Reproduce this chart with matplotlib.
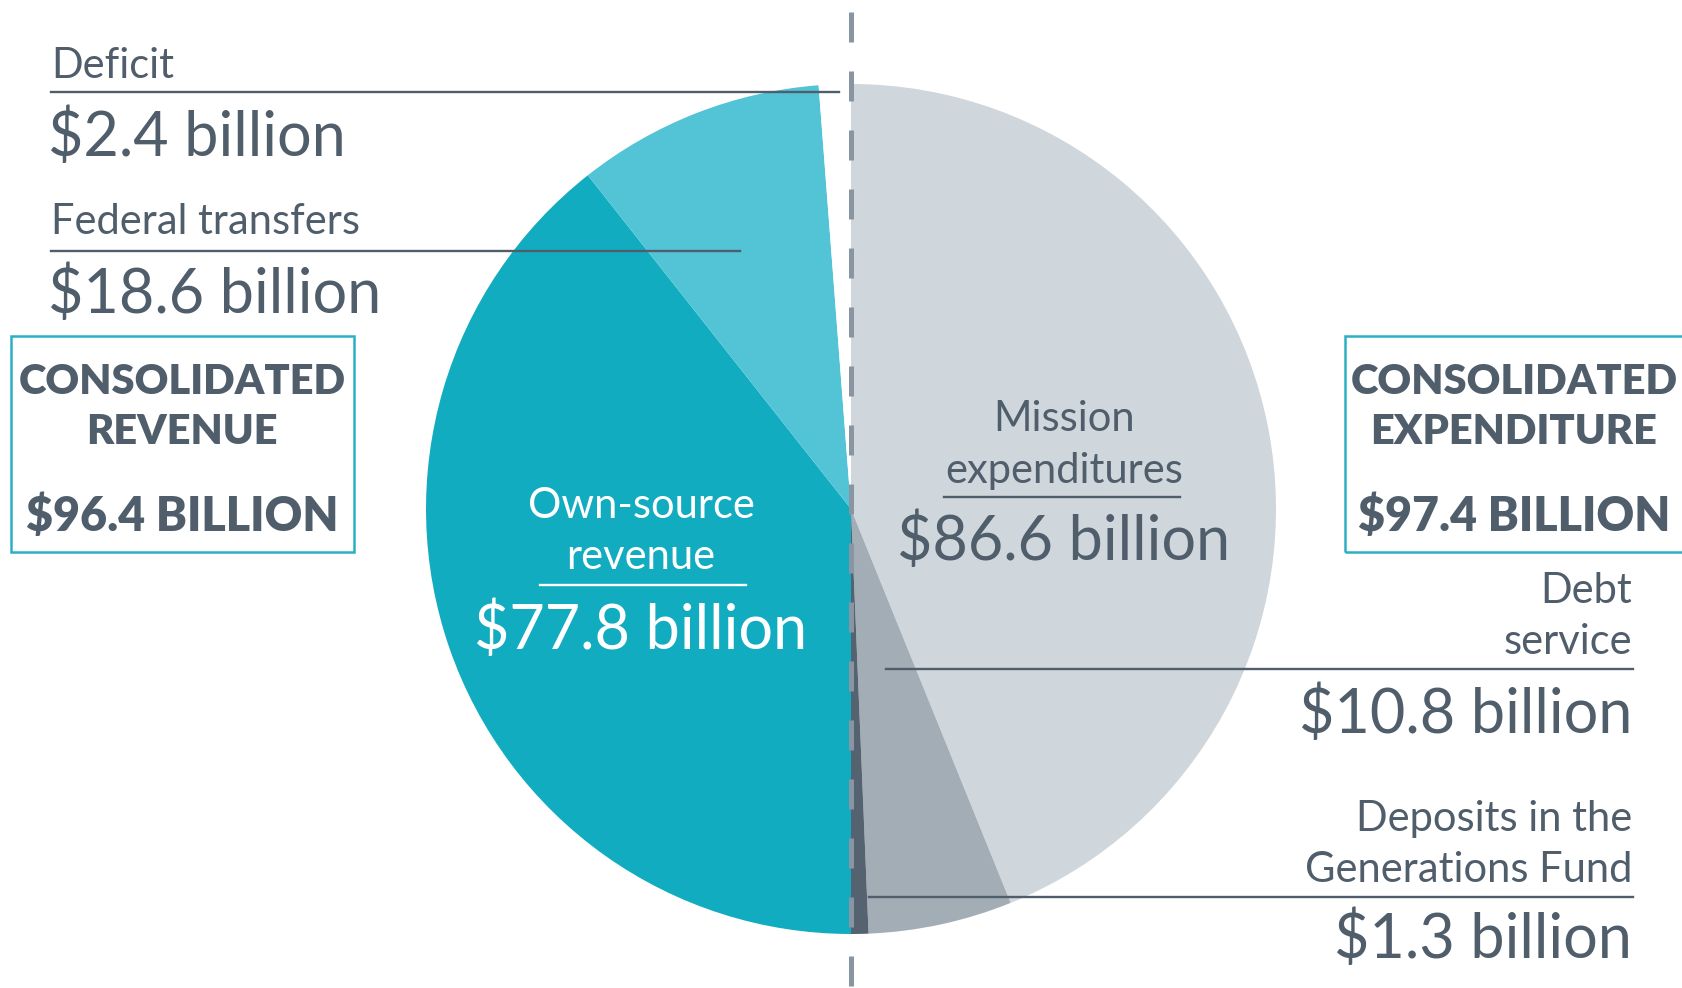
import matplotlib
matplotlib.use("Agg")
import matplotlib.pyplot as plt
from matplotlib.patches import Rectangle

# revenue side (left half), billions
revenue_labels = ["Own-source revenue", "Federal transfers", "Deficit"]
revenue_values = [77.8, 18.6, 2.4]
revenue_colors = ["#12acc0", "#52c4d6", "#ffffff"]

# expenditure side (right half), billions
expense_labels = ["Mission expenditures", "Debt service", "Deposits in the Generations Fund"]
expense_values = [86.6, 10.8, 1.3]
expense_colors = ["#cfd6dc", "#a3adb6", "#55626f"]

total_revenue = 96.4
total_expense = 97.4

TEXT = "#505e6c"
TEAL = "#2ab0c2"
W, H = 1682, 988
CX, CY, R = 851, H - 509, 425
SMALL, BIG = 30, 44

plt.rcParams["font.family"] = ["Lato", "DejaVu Sans"]

fig = plt.figure(figsize=(W / 100, H / 100), dpi=100)
ax = fig.add_axes([0, 0, 1, 1])

# each half of the pie: real slices plus an invisible filler equal to their sum
left_vals = revenue_values + [sum(revenue_values)]
ax.pie(left_vals, colors=revenue_colors + ["none"], startangle=270,
       counterclock=False, center=(CX, CY), radius=R,
       wedgeprops=dict(linewidth=0))
right_vals = expense_values + [sum(expense_values)]
ax.pie(right_vals, colors=expense_colors + ["none"], startangle=90,
       counterclock=False, center=(CX, CY), radius=R,
       wedgeprops=dict(linewidth=0))

ax.set_xlim(0, W)
ax.set_ylim(0, H)
ax.set_aspect("equal")
ax.axis("off")

# dashed divider
ax.plot([CX, CX], [H - 12, 0], color="#8a95a3", lw=3.6,
        dashes=(6, 5.8), solid_capstyle="butt", zorder=5)


def Y(py):
    return H - py


# left side labels
ax.text(51, Y(78), "Deficit", fontsize=SMALL, color=TEXT, va="baseline")
ax.plot([51, 839], [Y(92), Y(92)], color=TEXT, lw=1.7, zorder=6)
ax.text(48, Y(156), f"${revenue_values[2]} billion", fontsize=BIG, color=TEXT, va="baseline")

ax.text(51, Y(234), "Federal transfers", fontsize=SMALL, color=TEXT, va="baseline")
ax.plot([51, 740], [Y(251), Y(251)], color=TEXT, lw=1.7, zorder=6)
ax.text(48, Y(313), f"${revenue_values[1]} billion", fontsize=BIG, color=TEXT, va="baseline")

# totals boxes
ax.add_patch(Rectangle((11, Y(552)), 343, 216, fill=False, ec=TEAL, lw=1.8))
ax.text(182, Y(394), "CONSOLIDATED", fontsize=30, fontweight="heavy", color=TEXT,
        ha="center", va="baseline")
ax.text(182, Y(444), "REVENUE", fontsize=30, fontweight="heavy", color=TEXT,
        ha="center", va="baseline")
ax.text(182, Y(531), f"${total_revenue} BILLION", fontsize=33.5, fontweight="heavy",
        color=TEXT, ha="center", va="baseline")

ax.add_patch(Rectangle((1345, Y(552)), 360, 216, fill=False, ec=TEAL, lw=1.8,
                       clip_on=False))
ax.text(1514, Y(394), "CONSOLIDATED", fontsize=30, fontweight="heavy", color=TEXT,
        ha="center", va="baseline")
ax.text(1514, Y(444), "EXPENDITURE", fontsize=30, fontweight="heavy", color=TEXT,
        ha="center", va="baseline")
ax.text(1514, Y(531), f"${total_expense} BILLION", fontsize=33.5, fontweight="heavy",
        color=TEXT, ha="center", va="baseline")

# inside the pie
ax.text(641, Y(518), "Own-source", fontsize=SMALL, color="white", ha="center", va="baseline")
ax.text(641, Y(569), "revenue", fontsize=SMALL, color="white", ha="center", va="baseline")
ax.plot([540, 746], [Y(585), Y(585)], color="white", lw=1.7, zorder=6)
ax.text(641, Y(649), f"${revenue_values[0]} billion", fontsize=BIG, color="white",
        ha="center", va="baseline")

ax.text(1064, Y(431), "Mission", fontsize=SMALL, color=TEXT, ha="center", va="baseline")
ax.text(1064, Y(483), "expenditures", fontsize=SMALL, color=TEXT, ha="center", va="baseline")
ax.plot([944, 1180], [Y(497), Y(497)], color=TEXT, lw=1.7, zorder=6)
ax.text(1064, Y(560), f"${expense_values[0]} billion", fontsize=BIG, color=TEXT,
        ha="center", va="baseline")

# right side labels
ax.text(1632, Y(603), "Debt", fontsize=SMALL, color=TEXT, ha="right", va="baseline")
ax.text(1632, Y(654), "service", fontsize=SMALL, color=TEXT, ha="right", va="baseline")
ax.plot([886, 1633], [Y(669), Y(669)], color=TEXT, lw=1.7, zorder=6)
ax.text(1632, Y(733), f"${expense_values[1]} billion", fontsize=BIG, color=TEXT,
        ha="right", va="baseline")

ax.text(1632, Y(831), "Deposits in the", fontsize=SMALL, color=TEXT, ha="right", va="baseline")
ax.text(1632, Y(882), "Generations Fund", fontsize=SMALL, color=TEXT, ha="right", va="baseline")
ax.plot([869, 1633], [Y(897), Y(897)], color=TEXT, lw=1.7, zorder=6)
ax.text(1632, Y(958), f"${expense_values[2]} billion", fontsize=BIG, color=TEXT,
        ha="right", va="baseline")

fig.savefig("out.png", dpi=100, facecolor="white")
